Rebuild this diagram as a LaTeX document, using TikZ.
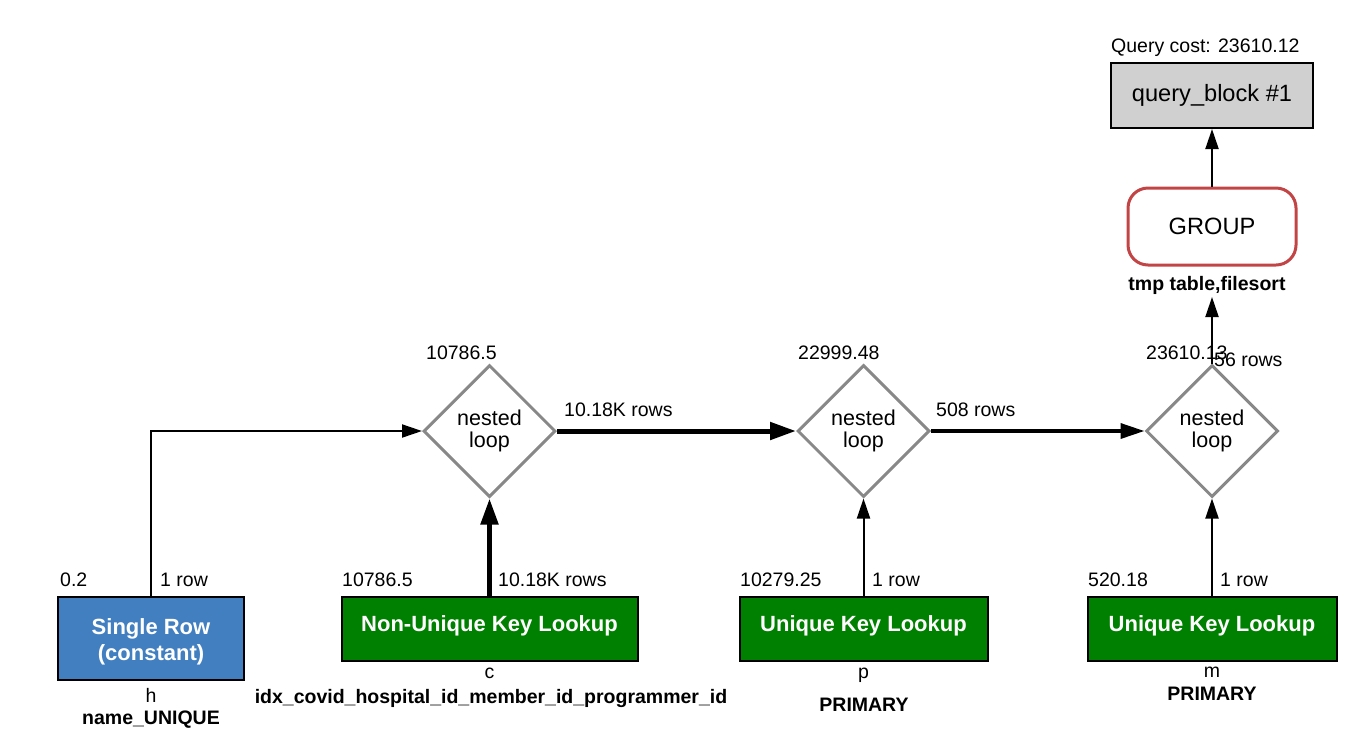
\documentclass[tikz,border=0pt]{standalone}
\usepackage{fontspec}
\setmainfont{Liberation Sans}
\usetikzlibrary{shapes.geometric,arrows.meta}
\definecolor{rowblue}{RGB}{65,127,193}
\definecolor{lookupgreen}{RGB}{0,128,0}
\definecolor{blockgray}{RGB}{208,208,208}
\definecolor{loopgray}{RGB}{136,136,136}
\definecolor{groupred}{RGB}{194,68,68}
% move a box caption up (positive) or down (negative) without changing its size
\newcommand\shiftcap[2]{\raisebox{#1}[\height][\depth]{#2}}
\begin{document}
\begin{tikzpicture}[x=1pt,y=-1pt,
  lbl/.style={font=\fontsize{19.5}{23}\selectfont, inner sep=0pt, anchor=base west},
  lblc/.style={font=\fontsize{19.5}{23}\selectfont, inner sep=0pt, anchor=base},
  keylbl/.style={font=\bfseries\fontsize{19.5}{23}\selectfont, inner sep=0pt, anchor=base},
  access/.style={draw=black, line width=2pt, text=white, align=center, inner sep=0pt,
    font=\bfseries\fontsize{22}{26}\selectfont},
  loopnode/.style={diamond, draw=loopgray, line width=3pt, fill=white, inner sep=0pt,
    minimum width=132pt, minimum height=132pt, align=center,
    font=\fontsize{21.5}{22}\selectfont},
  flow/.style={-{Triangle[length=20pt,width=13pt]}, line width=2pt},
  medflow/.style={-{Triangle[length=24pt,width=15pt]}, line width=3.5pt},
  thickflow/.style={-{Triangle[length=26pt,width=17pt]}, line width=5pt}]
\useasboundingbox (0,0) rectangle (1364,748);

% query block and grouping
\node[draw=black, line width=2pt, fill=blockgray, minimum width=202pt, minimum height=65pt,
  inner sep=0pt, font=\fontsize{23.6}{26}\selectfont] (qb) at (1212,95.5) {query\_block \#1};
\node[lbl] (qcost) at (1111,52) {Query cost: 23610.12};
\node[draw=groupred, line width=3pt, fill=white, rounded corners=20pt, minimum width=168pt,
  minimum height=77pt, inner sep=0pt, font=\fontsize{23.6}{26}\selectfont] (grp) at (1212,226.5) {GROUP};
\node[keylbl] (tmp) at (1207,290) {tmp table,filesort};

% nested loops
\node[loopnode] (nl1) at (489.5,431) {nested\\loop};
\node[loopnode] (nl2) at (863.5,431) {nested\\loop};
\node[loopnode] (nl3) at (1212,431) {nested\\loop};
\node[lbl] (c1) at (426,359) {10786.5};
\node[lbl] (c2) at (798,359) {22999.48};
\node[lbl] (c3) at (1146,359) {23610.13};
\node[lbl] (r3) at (1214,366) {56 rows};
\node[lbl] (r12) at (564,416) {10.18K rows};
\node[lbl] (r23) at (936,416) {508 rows};

% table access boxes
\node[access, fill=rowblue, minimum width=186pt, minimum height=83pt] (h) at (151,638.5) {\shiftcap{-4pt}{\begin{tabular}{@{}c@{}}Single Row\\[-0.5pt](constant)\end{tabular}}};
\node[access, fill=lookupgreen, minimum width=296pt, minimum height=64pt] (c) at (489.5,629) {\shiftcap{3pt}{Non-Unique Key Lookup}};
\node[access, fill=lookupgreen, minimum width=248pt, minimum height=64pt] (p) at (863.5,629) {\shiftcap{3pt}{Unique Key Lookup}};
\node[access, fill=lookupgreen, minimum width=249pt, minimum height=64pt] (m) at (1212,629) {\shiftcap{3pt}{Unique Key Lookup}};

% costs and rows above the boxes
\node[lbl] (hc) at (60,586) {0.2};
\node[lbl] (hr) at (160,586) {1 row};
\node[lbl] (cc) at (342,586) {10786.5};
\node[lbl] (cr) at (498,586) {10.18K rows};
\node[lbl] (pc) at (740,586) {10279.25};
\node[lbl] (pr) at (872,586) {1 row};
\node[lbl] (mc) at (1088,586) {520.18};
\node[lbl] (mr) at (1220,586) {1 row};

% table names and keys
\node[lblc] (ht) at (151,702) {h};
\node[keylbl] (hk) at (151,724) {name\_UNIQUE};
\node[lblc] (ct) at (489.5,678) {c};
\node[keylbl] (ck) at (491,703) {idx\_covid\_hospital\_id\_member\_id\_programmer\_id};
\node[lblc] (pt) at (863.5,678) {p};
\node[keylbl] (pk) at (864,711) {PRIMARY};
\node[lblc] (mt) at (1212,677) {m};
\node[keylbl] (mk) at (1212,700) {PRIMARY};

% connectors
\draw[flow] (h.north) |- (nl1.west);
\draw[thickflow] (c.north) -- (nl1.south);
\draw[flow] (p.north) -- (nl2.south);
\draw[flow] (m.north) -- (nl3.south);
\draw[thickflow] (nl1.east) -- (nl2.west);
\draw[medflow] (nl2.east) -- (nl3.west);
\draw[flow] (nl3.north) -- (1212,297);
\draw[flow] (grp.north) -- (qb.south);
\end{tikzpicture}
\end{document}
